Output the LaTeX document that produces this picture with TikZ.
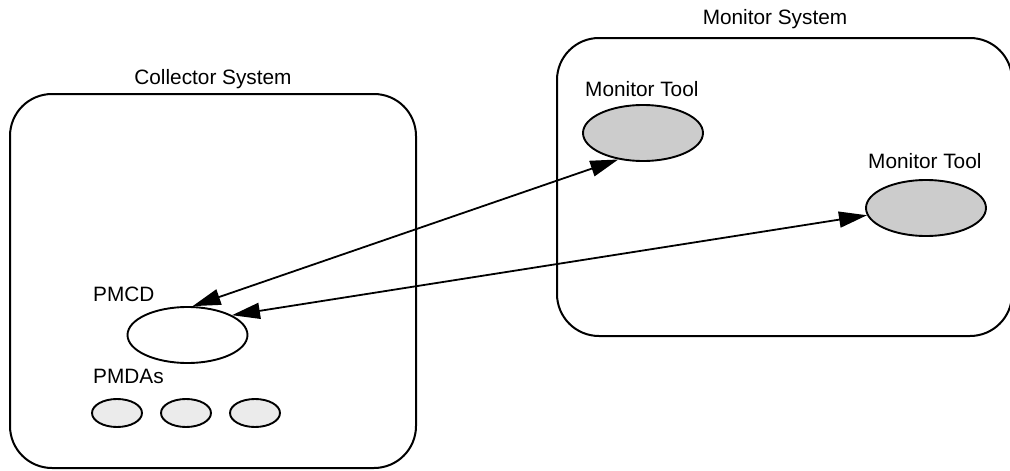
\documentclass[tikz,border=0pt]{standalone}
\usepackage{fontspec}
\setmainfont{Liberation Sans}
\usetikzlibrary{shapes.geometric,arrows.meta}
\begin{document}
\begin{tikzpicture}[x=1pt,y=-1pt,
  sysbox/.style={draw=black,line width=2pt,rounded corners=42pt},
  lbl/.style={inner sep=0pt,font=\fontsize{20.8pt}{24pt}\selectfont},
  tool/.style={ellipse,draw=black,line width=1.9pt,fill=toolgray,minimum width=120pt,minimum height=56pt,inner sep=0pt},
  pmcdshape/.style={ellipse,draw=black,line width=1.9pt,fill=white,minimum width=120pt,minimum height=56pt,inner sep=0pt},
  pmda/.style={ellipse,draw=black,line width=1.9pt,fill=pmdagray,minimum width=50pt,minimum height=28pt,inner sep=0pt},
  link/.style={line width=1.8pt,{Triangle[length=28pt,width=16pt]}-{Triangle[length=28pt,width=16pt]}}
]
\definecolor{toolgray}{HTML}{CCCCCC}
\definecolor{pmdagray}{HTML}{EBEBEB}
\useasboundingbox (0,0) rectangle (1010,471);

% system boxes
\draw[sysbox] (10,94) rectangle (416,468);
\draw[sysbox] (557,38) rectangle (1012,336);
\node[lbl,anchor=base] (colllbl) at (213,84) {Collector System};
\node[lbl,anchor=base] (monlbl) at (775,24) {Monitor System};

% monitor tools
\node[tool] (mt1) at (643,133) {};
\node[tool] (mt2) at (926,208) {};
\node[lbl,anchor=base west] (mt1lbl) at (585,96) {Monitor Tool};
\node[lbl,anchor=base west] (mt2lbl) at (868,168) {Monitor Tool};

% PMCD and PMDAs
\node[pmcdshape] (pmcd) at (187.5,335) {};
\node[lbl,anchor=base west] (pmcdlbl) at (93,301) {PMCD};
\node[lbl,anchor=base west] (pmdalbl) at (93,383) {PMDAs};
\node[pmda] (pmda1) at (117,413) {};
\node[pmda] (pmda2) at (186,413) {};
\node[pmda] (pmda3) at (255,413) {};

% connectors
\draw[link] (pmcd.80) -- (mt1.227);
\draw[link] (pmcd.24) -- (mt2.187);
\end{tikzpicture}
\end{document}
